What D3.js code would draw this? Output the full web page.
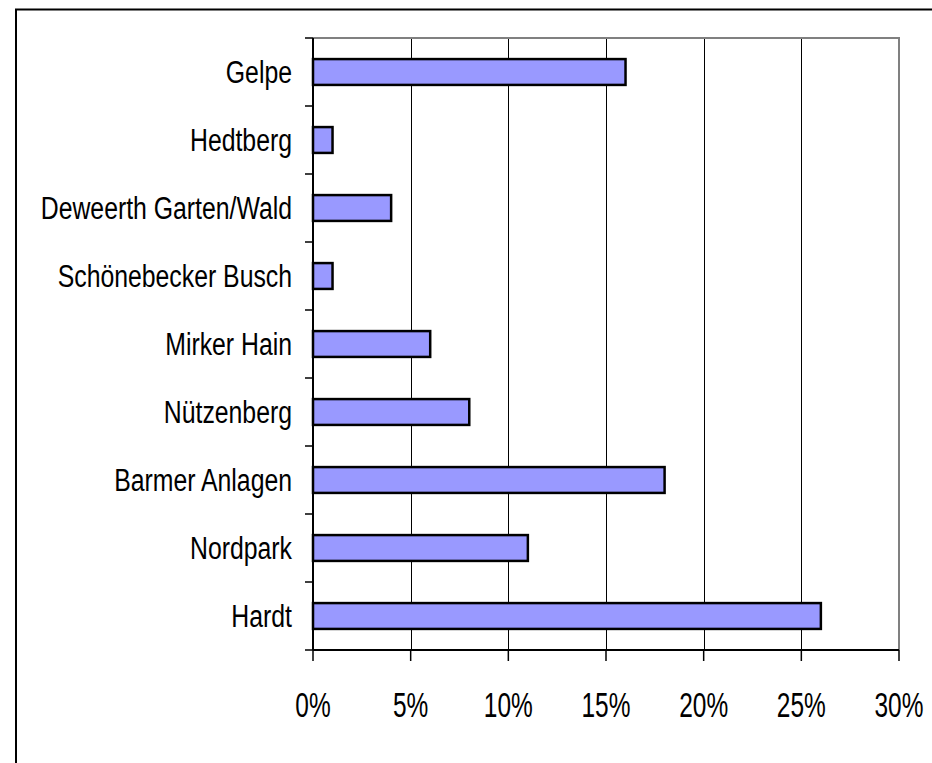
<!DOCTYPE html>
<html>
<head>
<meta charset="utf-8">
<script src="https://cdn.jsdelivr.net/npm/d3@7"></script>
<style>
  body { margin: 0; background: #fff; }
  text { font-family: "Liberation Sans", Arial, sans-serif; fill: #000; }
</style>
</head>
<body>
<svg width="932" height="763"></svg>
<script>
// data
var categories = ["Gelpe", "Hedtberg", "Deweerth Garten/Wald", "Schönebecker Busch",
                  "Mirker Hain", "Nützenberg", "Barmer Anlagen", "Nordpark", "Hardt"];
var values = [16, 1, 4, 1, 6, 8, 18, 11, 26];
var xTicks = [0, 5, 10, 15, 20, 25, 30];

var svg = d3.select("svg");

var plotLeft = 313, plotRight = 899, plotTop = 38, plotBottom = 650;

var x = d3.scaleLinear().domain([0, 30]).range([plotLeft, plotRight]);
var y = d3.scaleBand().domain(categories).range([plotTop, plotBottom])
          .paddingInner(0.62).paddingOuter(0.31);
var yb = d3.scaleBand().domain(categories).range([plotTop, plotBottom]).padding(0);

// outer frame
svg.append("rect")
    .attr("x", 16).attr("y", 9.5)
    .attr("width", 940).attr("height", 800)
    .attr("fill", "none").attr("stroke", "#000").attr("stroke-width", 2);

// gridlines
svg.append("g").selectAll("line")
    .data(xTicks.filter(function(d) { return d > 0 && d < 30; }))
  .enter().append("line")
    .attr("x1", function(d) { return Math.round(x(d)) + 0.5; })
    .attr("x2", function(d) { return Math.round(x(d)) + 0.5; })
    .attr("y1", plotTop).attr("y2", plotBottom)
    .attr("stroke", "#000").attr("stroke-width", 1);

// plot area top/right border (gray)
svg.append("path")
    .attr("d", "M" + plotLeft + "," + plotTop + "H" + plotRight + "V" + plotBottom)
    .attr("fill", "none").attr("stroke", "#808080").attr("stroke-width", 2);

// bars
svg.append("g").selectAll("rect")
    .data(categories)
  .enter().append("rect")
    .attr("x", x(0))
    .attr("y", function(d) { return y(d); })
    .attr("width", function(d, i) { return x(values[i]) - x(0); })
    .attr("height", y.bandwidth())
    .attr("fill", "#9999ff")
    .attr("stroke", "#000").attr("stroke-width", 2.5);

// y axis
svg.append("line")
    .attr("x1", plotLeft).attr("x2", plotLeft).attr("y1", plotTop).attr("y2", plotBottom)
    .attr("stroke", "#000").attr("stroke-width", 2);
var yTickPos = categories.map(function(d) { return yb(d); }).concat([plotBottom]);
svg.append("g").selectAll("line")
    .data(yTickPos)
  .enter().append("line")
    .attr("x1", plotLeft - 8).attr("x2", plotLeft)
    .attr("y1", function(d) { return d; }).attr("y2", function(d) { return d; })
    .attr("stroke", "#000").attr("stroke-width", 1.5);

svg.append("g").selectAll("text")
    .data(categories)
  .enter().append("text")
    .attr("transform", function(d) {
      return "translate(" + (plotLeft - 21) + "," + (yb(d) + yb.bandwidth() / 2 + 11) + ") scale(0.8,1)";
    })
    .attr("text-anchor", "end")
    .attr("font-size", 31)
    .text(function(d) { return d; });

// x axis
svg.append("line")
    .attr("x1", plotLeft).attr("x2", plotRight).attr("y1", plotBottom).attr("y2", plotBottom)
    .attr("stroke", "#000").attr("stroke-width", 2);
svg.append("g").selectAll("line")
    .data(xTicks)
  .enter().append("line")
    .attr("x1", function(d) { return x(d); }).attr("x2", function(d) { return x(d); })
    .attr("y1", plotBottom).attr("y2", plotBottom + 11)
    .attr("stroke", "#000").attr("stroke-width", 1.5);
svg.append("g").selectAll("text")
    .data(xTicks)
  .enter().append("text")
    .attr("transform", function(d) {
      return "translate(" + x(d) + "," + 716.5 + ") scale(0.7,1)";
    })
    .attr("text-anchor", "middle")
    .attr("font-size", 35)
    .text(function(d) { return d + "%"; });
</script>
</body>
</html>
